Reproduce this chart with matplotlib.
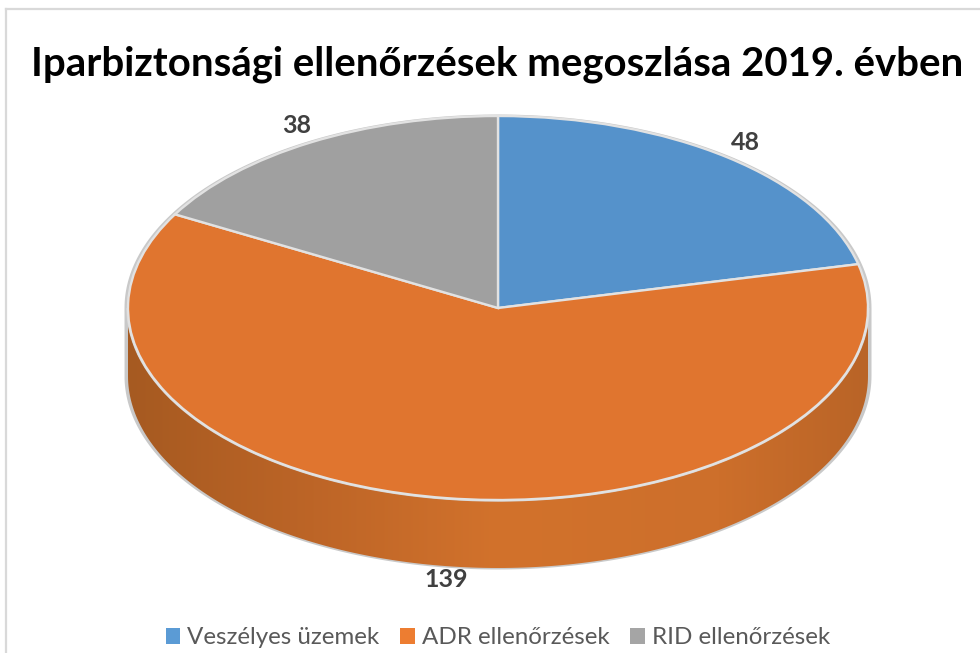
import numpy as np
import matplotlib
matplotlib.use('Agg')
import matplotlib.pyplot as plt
from matplotlib.colors import LinearSegmentedColormap
from matplotlib.lines import Line2D
from matplotlib.patches import Patch, Polygon

plt.rcParams['font.family'] = ['Lato', 'DejaVu Sans']

TITLE = 'Iparbiztonsági ellenőrzések megoszlása 2019. évben'
categories = ['Veszélyes üzemek', 'ADR ellenőrzések', 'RID ellenőrzések']
values = [48, 139, 38]
top_colors = ['#5592cb', '#e0752f', '#a0a0a0']
legend_colors = ['#5b9bd5', '#ed7d31', '#a5a5a5']

W, H = 980, 653
CX, CY = 498, 308      # pie centre in pixels
RX, RY = 370, 192      # top ellipse radii in pixels
DEPTH = 68 / RY        # side wall height, in axis units

fig = plt.figure(figsize=(W / 100, H / 100), dpi=100, facecolor='white')
ax = fig.add_axes([0, 0, 1, 1])

# Top of the pie, squashed to an ellipse by the axis limits
wedges, _ = ax.pie(values, colors=top_colors, startangle=90, counterclock=False,
                   radius=1, center=(0, 0),
                   wedgeprops={'edgecolor': '#e2e2e2', 'linewidth': 1.7, 'zorder': 5})
ax.set_aspect('auto')

# Grey rim behind everything
t = np.linspace(0, 2 * np.pi, 361)
rim_x = (RX + 3.5) / RX
rim_y = (RY + 1.5) / RY
x = rim_x * np.cos(t)
y = rim_y * np.sin(t)
sil_y = np.where(np.sin(t) < 0, y - DEPTH, y)
ax.add_patch(Polygon(np.column_stack([x, sil_y]), closed=True, fc='#c9c9c9', ec='none', zorder=1))

# Side wall, shaded from left to right
wall_x = np.cos(t[180:361])
wall_y = np.sin(t[180:361])
wall = np.concatenate([np.column_stack([wall_x, wall_y]),
                       np.column_stack([wall_x[::-1], wall_y[::-1] - DEPTH])])
wall_patch = Polygon(wall, closed=True, fc='none', ec='none', transform=ax.transData)
ax.add_patch(wall_patch)
side_cmap = LinearSegmentedColormap.from_list(
    'side', [(0, '#a65a21'), (0.25, '#bd6527'), (0.5, '#d2722c'), (0.8, '#cd6f2b'), (1, '#b96427')])
img = ax.imshow(np.linspace(0, 1, 256).reshape(1, -1), cmap=side_cmap, aspect='auto',
                extent=(-1, 1, -1 - DEPTH, 0), zorder=2)
img.set_clip_path(wall_patch)

# Light line between wall and top
ax.plot(wall_x, wall_y, color='#d6d6d6', lw=2.4, zorder=4, solid_capstyle='butt')

# Data labels placed just outside each slice
cum = np.cumsum([0] + values)
mids = (cum[:-1] + cum[1:]) / 2 / sum(values) * 2 * np.pi
for val, mid in zip(values, mids):
    if np.cos(mid) < 0:
        lx = 1.0 * np.sin(mid)
        ly = 1.07 * np.cos(mid) - DEPTH
    else:
        lx = 1.075 * np.sin(mid)
        ly = 1.1 * np.cos(mid)
    ax.text(lx, ly, str(val), ha='center', va='center', fontsize=18,
            fontweight='bold', color='#404040', zorder=6)

ax.set_xlim(-CX / RX, (W - CX) / RX)
ax.set_ylim((CY - H) / RY, CY / RY)
ax.axis('off')

fig.text(497 / W, 1 - 64 / H, TITLE, ha='center', va='center', fontsize=28.9,
         fontweight='bold', color='black')

handles = [Patch(fc=c, ec='none') for c in legend_colors]
fig.legend(handles, categories, loc='center', bbox_to_anchor=(498 / W, 1 - 638 / H), ncol=3,
           frameon=False, fontsize=17.4, labelcolor='#595959', handlelength=0.6, handleheight=0.6,
           handletextpad=0.3, columnspacing=0.85, borderpad=0)

# Chart frame, only top and left edges fall inside the picture
fig.add_artist(Line2D([6 / W, 6 / W], [0, 1 - 9 / H], color='#d9d9d9', lw=1.6))
fig.add_artist(Line2D([6 / W, 1], [1 - 9 / H, 1 - 9 / H], color='#d9d9d9', lw=1.6))

fig.savefig('out.png', dpi=100)
